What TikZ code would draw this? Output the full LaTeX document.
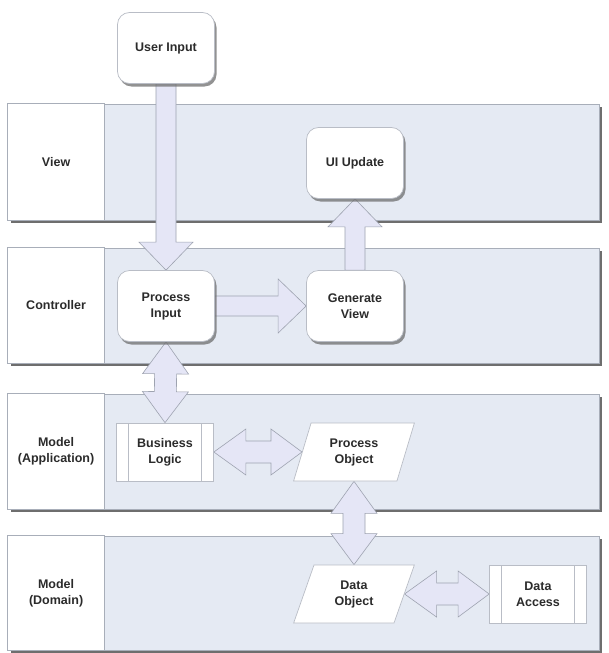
\documentclass[tikz,border=0pt]{standalone}
\usepackage{fontspec}
\setmainfont{Liberation Sans}
\usetikzlibrary{calc,shapes.geometric,shadows}
\pgfdeclarelayer{lanes}
\pgfdeclarelayer{arrows}
\pgfsetlayers{lanes,arrows,main}
\definecolor{lanefill}{HTML}{E5EAF3}
\definecolor{laneline}{HTML}{A8AEB9}
\definecolor{shadowc}{HTML}{6E6E6E}
\definecolor{arrowfill}{HTML}{E5E6F6}
\definecolor{arrowline}{HTML}{9EA3B0}
\definecolor{boxline}{HTML}{B9BDC6}
\definecolor{txt}{HTML}{2B2B2B}
\tikzset{
  lane/.style={draw=laneline, fill=lanefill, line width=0.8pt, inner sep=0pt,
    minimum width=591pt,
    drop shadow={shadow xshift=3pt, shadow yshift=-3pt, fill=shadowc, opacity=1}},
  labelcol/.style={draw=laneline, fill=white, line width=0.8pt},
  lanelabel/.style={align=center, text=txt},
  roundbox/.style={draw=boxline, fill=white, line width=0.7pt, rounded corners=12pt,
    minimum width=97pt, minimum height=71pt, inner sep=2pt, align=center, text=txt,
    drop shadow={shadow xshift=2pt, shadow yshift=-3pt, fill=shadowc, opacity=0.75}},
  procbox/.style={draw=boxline, fill=white, line width=0.7pt,
    minimum width=97pt, minimum height=58pt, inner sep=2pt, align=center, text=txt,
    path picture={
      \draw[boxline, line width=0.7pt]
        ([xshift=12pt]path picture bounding box.north west) --
        ([xshift=12pt]path picture bounding box.south west);
      \draw[boxline, line width=0.7pt]
        ([xshift=-12pt]path picture bounding box.north east) --
        ([xshift=-12pt]path picture bounding box.south east);}},
  parabox/.style={trapezium, trapezium left angle=70, trapezium right angle=110,
    trapezium stretches=true, minimum width=121pt, minimum height=58pt,
    inner sep=0pt, draw=boxline, fill=white, line width=0.7pt, align=center, text=txt},
  blockarrow/.style={draw=arrowline, fill=arrowfill, line width=0.6pt, line join=miter},
}
% single block arrow from #1 (tail) to #2 (tip)
\newcommand\singlearrow[2]{%
  \coordinate (saH) at ($(#2)!28pt!(#1)$);
  \draw[blockarrow] ($(#1)!10pt!90:(#2)$) -- ($(saH)!10pt!90:(#2)$) --
    ($(saH)!27pt!90:(#2)$) -- (#2) -- ($(saH)!27pt!-90:(#2)$) --
    ($(saH)!10pt!-90:(#2)$) -- ($(#1)!10pt!-90:(#2)$) -- cycle;}
% double block arrow between #1 and #2
\newcommand\doublearrow[2]{%
  \coordinate (daA) at ($(#1)!32pt!(#2)$);
  \coordinate (daB) at ($(#2)!31pt!(#1)$);
  \draw[blockarrow] (#1) -- ($(daA)!23pt!90:(#2)$) -- ($(daA)!11pt!90:(#2)$) --
    ($(daB)!11pt!90:(#2)$) -- ($(daB)!23pt!90:(#2)$) -- (#2) --
    ($(daB)!23pt!-90:(#2)$) -- ($(daB)!11pt!-90:(#2)$) --
    ($(daA)!11pt!-90:(#2)$) -- ($(daA)!23pt!-90:(#2)$) -- cycle;}
\begin{document}
\begin{tikzpicture}[x=1pt, y=-1pt, font=\fontsize{12.5}{16}\selectfont\bfseries]
\useasboundingbox (0,0) rectangle (608,653);

% swim lanes
\begin{pgfonlayer}{lanes}
  \fill[white] (0,0) rectangle (608,653);
  \node[lane, minimum height=116pt] (vl) at (303.5,162) {};
  \draw[labelcol] (vl.north west) rectangle ($(vl.south west)+(97,0)$);
  \node[lane, minimum height=115pt] (cl) at (303.5,305.5) {};
  \draw[labelcol] (cl.north west) rectangle ($(cl.south west)+(97,0)$);
  \node[lane, minimum height=115pt] (al) at (303.5,451.5) {};
  \draw[labelcol] (al.north west) rectangle ($(al.south west)+(97,0)$);
  \node[lane, minimum height=114pt] (dl) at (303.5,593) {};
  \draw[labelcol] (dl.north west) rectangle ($(dl.south west)+(97,0)$);
\end{pgfonlayer}

\node[lanelabel] (vlt) at ($(vl.west)+(48.5,0)$) {View};
\node[lanelabel] (clt) at ($(cl.west)+(48.5,0)$) {Controller};
\node[lanelabel] (alt) at ($(al.west)+(48.5,0)$) {Model\\(Application)};
\node[lanelabel] (dlt) at ($(dl.west)+(48.5,0)$) {Model\\(Domain)};

% boxes
\node[roundbox] (ui) at (166,48) {User Input};
\node[roundbox] (uu) at (355,163) {UI Update};
\node[roundbox] (pi) at (166,306) {Process\\Input};
\node[roundbox] (gv) at (355,306) {Generate\\View};
\node[procbox] (bl) at (165,452) {Business\\Logic};
\node[parabox] (po) at (354,452) {Process\\Object};
\node[parabox] (do) at (354,594) {Data\\Object};
\node[procbox] (da) at (538,594) {Data\\Access};

\coordinate (poS) at (po.center |- po.south);
\coordinate (doN) at (do.center |- do.north);

% connectors
\begin{pgfonlayer}{arrows}
  \singlearrow{ui.south}{pi.north}
  \singlearrow{gv.north}{uu.south}
  \singlearrow{pi.east}{gv.west}
  \doublearrow{pi.south}{bl.north}
  \doublearrow{bl.east}{po.west}
  \doublearrow{poS}{doN}
  \doublearrow{do.east}{da.west}
\end{pgfonlayer}
\end{tikzpicture}
\end{document}
